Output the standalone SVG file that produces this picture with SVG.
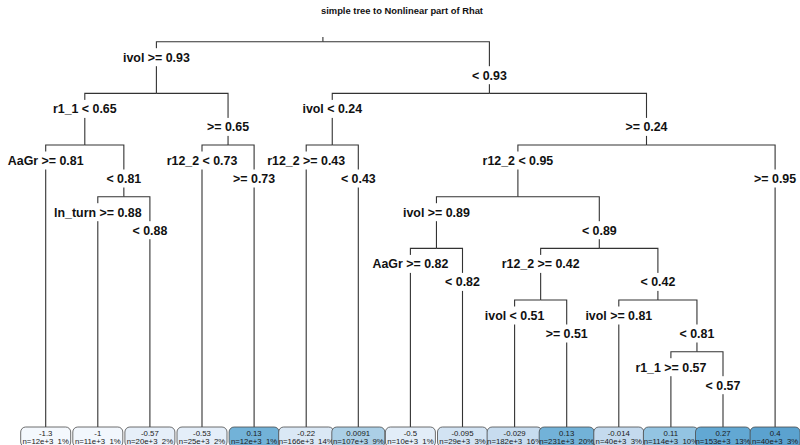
<svg xmlns="http://www.w3.org/2000/svg" width="800" height="445" viewBox="0 0 800 445">
<style>
.ln{stroke:#333;stroke-width:1.1;fill:none}
.bg{fill:#fff}
.lb{font-family:"Liberation Sans",Arial,sans-serif;font-weight:bold;font-size:12.4px;text-anchor:middle;fill:#111}
.tt{font-family:"Liberation Sans",Arial,sans-serif;font-weight:bold;font-size:9.4px;text-anchor:middle;fill:#111}
.bx{stroke:#4a4a4a;stroke-width:0.8}
.lv{font-family:"Liberation Sans",Arial,sans-serif;font-size:7.8px;text-anchor:middle;fill:#1a1a1a;white-space:pre}
</style>
<rect width="800" height="445" fill="#fff"/>
<text class="tt" x="402" y="13.5">simple tree to Nonlinear part of Rhat</text>
<g id="connectors">
<path class="ln" d="M322.9,37 V41.7"/>
<path class="ln" d="M322.9,41.7 H156.4 V93.4"/>
<path class="ln" d="M322.9,41.7 H489.4 V93.4"/>
<path class="ln" d="M156.4,93.4 H84.8 V145"/>
<path class="ln" d="M156.4,93.4 H228.05 V145"/>
<path class="ln" d="M489.4,93.4 H332.25 V145"/>
<path class="ln" d="M489.4,93.4 H646.5 V145"/>
<path class="ln" d="M84.8,145 H45.7 V427"/>
<path class="ln" d="M84.8,145 H123.85 V196.7"/>
<path class="ln" d="M228.05,145 H202 V427"/>
<path class="ln" d="M228.05,145 H254.1 V427"/>
<path class="ln" d="M332.25,145 H306.2 V427"/>
<path class="ln" d="M332.25,145 H358.3 V427"/>
<path class="ln" d="M646.5,145 H517.9 V196.7"/>
<path class="ln" d="M646.5,145 H775.1 V427"/>
<path class="ln" d="M123.85,196.7 H97.8 V427"/>
<path class="ln" d="M123.85,196.7 H149.9 V427"/>
<path class="ln" d="M517.9,196.7 H436.45 V248.4"/>
<path class="ln" d="M517.9,196.7 H599.3 V248.4"/>
<path class="ln" d="M436.45,248.4 H410.4 V427"/>
<path class="ln" d="M436.45,248.4 H462.5 V427"/>
<path class="ln" d="M599.3,248.4 H540.65 V300"/>
<path class="ln" d="M599.3,248.4 H657.9 V300"/>
<path class="ln" d="M540.65,300 H514.6 V427"/>
<path class="ln" d="M540.65,300 H566.7 V427"/>
<path class="ln" d="M657.9,300 H618.8 V427"/>
<path class="ln" d="M657.9,300 H696.95 V351.7"/>
<path class="ln" d="M696.95,351.7 H670.9 V427"/>
<path class="ln" d="M696.95,351.7 H723 V427"/>
</g>
<g id="n_root"></g>
<g id="n_L"><rect class="bg" x="120.95" y="48.2" width="70.9" height="18"/><text class="lb" x="156.4" y="61.6">ivol &gt;= 0.93</text></g>
<g id="n_R"><rect class="bg" x="470" y="66.2" width="38.8" height="18"/><text class="lb" x="489.4" y="79.6">&lt; 0.93</text></g>
<g id="n_LL"><rect class="bg" x="50.9" y="99.9" width="67.8" height="18"/><text class="lb" x="84.8" y="113.3">r1_1 &lt; 0.65</text></g>
<g id="n_LR"><rect class="bg" x="205" y="117.9" width="46.1" height="18"/><text class="lb" x="228.05" y="131.3">&gt;= 0.65</text></g>
<g id="n_RL"><rect class="bg" x="300.45" y="99.9" width="63.6" height="18"/><text class="lb" x="332.25" y="113.3">ivol &lt; 0.24</text></g>
<g id="n_RR"><rect class="bg" x="623.45" y="117.9" width="46.1" height="18"/><text class="lb" x="646.5" y="131.3">&gt;= 0.24</text></g>
<g id="n_LLR"><rect class="bg" x="104.45" y="169.5" width="38.8" height="18"/><text class="lb" x="123.85" y="182.9">&lt; 0.81</text></g>
<g id="n_RRL"><rect class="bg" x="480.55" y="151.5" width="74.7" height="18"/><text class="lb" x="517.9" y="164.9">r12_2 &lt; 0.95</text></g>
<g id="n_RRLL"><rect class="bg" x="401" y="203.2" width="70.9" height="18"/><text class="lb" x="436.45" y="216.6">ivol &gt;= 0.89</text></g>
<g id="n_RRLR"><rect class="bg" x="579.9" y="221.2" width="38.8" height="18"/><text class="lb" x="599.3" y="234.6">&lt; 0.89</text></g>
<g id="n_RRLRL"><rect class="bg" x="499.7" y="254.9" width="81.9" height="18"/><text class="lb" x="540.65" y="268.3">r12_2 &gt;= 0.42</text></g>
<g id="n_RRLRR"><rect class="bg" x="638.5" y="272.9" width="38.8" height="18"/><text class="lb" x="657.9" y="286.3">&lt; 0.42</text></g>
<g id="n_RRLRRR"><rect class="bg" x="677.55" y="324.5" width="38.8" height="18"/><text class="lb" x="696.95" y="337.9">&lt; 0.81</text></g>

<g id="leaf1"><rect class="bg" x="5.8" y="151.5" width="79.8" height="18"/><text class="lb" x="45.7" y="164.9">AaGr &gt;= 0.81</text>
<rect class="bx" x="20.7" y="427" width="50" height="20" rx="5" fill="#f4f8fd"/><text class="lv" x="45.7" y="435.5">-1.3</text><text class="lv" x="45.7" y="443.8">n=12e+3  1%</text></g>
<g id="leaf2"><rect class="bg" x="52.05" y="203.2" width="91.5" height="18"/><text class="lb" x="97.8" y="216.6">ln_turn &gt;= 0.88</text>
<rect class="bx" x="72.8" y="427" width="50" height="20" rx="5" fill="#f2f7fd"/><text class="lv" x="97.8" y="435.5">-1</text><text class="lv" x="97.8" y="443.8">n=11e+3  1%</text></g>
<g id="leaf3"><rect class="bg" x="130.5" y="221.2" width="38.8" height="18"/><text class="lb" x="149.9" y="234.6">&lt; 0.88</text>
<rect class="bx" x="124.9" y="427" width="50" height="20" rx="5" fill="#e6eff9"/><text class="lv" x="149.9" y="435.5">-0.57</text><text class="lv" x="149.9" y="443.8">n=20e+3  2%</text></g>
<g id="leaf4"><rect class="bg" x="164.65" y="151.5" width="74.7" height="18"/><text class="lb" x="202" y="164.9">r12_2 &lt; 0.73</text>
<rect class="bx" x="177" y="427" width="50" height="20" rx="5" fill="#e4eef9"/><text class="lv" x="202" y="435.5">-0.53</text><text class="lv" x="202" y="443.8">n=25e+3  2%</text></g>
<g id="leaf5"><rect class="bg" x="231.05" y="169.5" width="46.1" height="18"/><text class="lb" x="254.1" y="182.9">&gt;= 0.73</text>
<rect class="bx" x="229.1" y="427" width="50" height="20" rx="5" fill="#72b2d8"/><text class="lv" x="254.1" y="435.5">0.13</text><text class="lv" x="254.1" y="443.8">n=12e+3  1%</text></g>
<g id="leaf6"><rect class="bg" x="265.25" y="151.5" width="81.9" height="18"/><text class="lb" x="306.2" y="164.9">r12_2 &gt;= 0.43</text>
<rect class="bx" x="278.7" y="427" width="55" height="20" rx="5" fill="#dae8f5"/><text class="lv" x="306.2" y="435.5">-0.22</text><text class="lv" x="306.2" y="443.8">n=166e+3  14%</text></g>
<g id="leaf7"><rect class="bg" x="338.9" y="169.5" width="38.8" height="18"/><text class="lb" x="358.3" y="182.9">&lt; 0.43</text>
<rect class="bx" x="331.8" y="427" width="53" height="20" rx="5" fill="#abcfe6"/><text class="lv" x="358.3" y="435.5">0.0091</text><text class="lv" x="358.3" y="443.8">n=107e+3  9%</text></g>
<g id="leaf8"><rect class="bg" x="370.5" y="254.9" width="79.8" height="18"/><text class="lb" x="410.4" y="268.3">AaGr &gt;= 0.82</text>
<rect class="bx" x="385.4" y="427" width="50" height="20" rx="5" fill="#e2edf8"/><text class="lv" x="410.4" y="435.5">-0.5</text><text class="lv" x="410.4" y="443.8">n=10e+3  1%</text></g>
<g id="leaf9"><rect class="bg" x="443.1" y="272.9" width="38.8" height="18"/><text class="lb" x="462.5" y="286.3">&lt; 0.82</text>
<rect class="bx" x="437.5" y="427" width="50" height="20" rx="5" fill="#d2e3f3"/><text class="lv" x="462.5" y="435.5">-0.095</text><text class="lv" x="462.5" y="443.8">n=29e+3  3%</text></g>
<g id="leaf10"><rect class="bg" x="482.8" y="306.5" width="63.6" height="18"/><text class="lb" x="514.6" y="319.9">ivol &lt; 0.51</text>
<rect class="bx" x="487.1" y="427" width="55" height="20" rx="5" fill="#c7dcef"/><text class="lv" x="514.6" y="435.5">-0.029</text><text class="lv" x="514.6" y="443.8">n=182e+3  16%</text></g>
<g id="leaf11"><rect class="bg" x="543.65" y="324.5" width="46.1" height="18"/><text class="lb" x="566.7" y="337.9">&gt;= 0.51</text>
<rect class="bx" x="539.2" y="427" width="55" height="20" rx="5" fill="#72b2d8"/><text class="lv" x="566.7" y="435.5">0.13</text><text class="lv" x="566.7" y="443.8">n=231e+3  20%</text></g>
<g id="leaf12"><rect class="bg" x="583.35" y="306.5" width="70.9" height="18"/><text class="lb" x="618.8" y="319.9">ivol &gt;= 0.81</text>
<rect class="bx" x="593.8" y="427" width="50" height="20" rx="5" fill="#c4daee"/><text class="lv" x="618.8" y="435.5">-0.014</text><text class="lv" x="618.8" y="443.8">n=40e+3  3%</text></g>
<g id="leaf13"><rect class="bg" x="633.4" y="358.2" width="75" height="18"/><text class="lb" x="670.9" y="371.6">r1_1 &gt;= 0.57</text>
<rect class="bx" x="643.4" y="427" width="55" height="20" rx="5" fill="#93c4e2"/><text class="lv" x="670.9" y="435.5">0.11</text><text class="lv" x="670.9" y="443.8">n=114e+3  10%</text></g>
<g id="leaf14"><rect class="bg" x="703.6" y="376.2" width="38.8" height="18"/><text class="lb" x="723" y="389.6">&lt; 0.57</text>
<rect class="bx" x="695.5" y="427" width="55" height="20" rx="5" fill="#62a8d3"/><text class="lv" x="723" y="435.5">0.27</text><text class="lv" x="723" y="443.8">n=153e+3  13%</text></g>
<g id="leaf15"><rect class="bg" x="752.05" y="169.5" width="46.1" height="18"/><text class="lb" x="775.1" y="182.9">&gt;= 0.95</text>
<rect class="bx" x="750.1" y="427" width="50" height="20" rx="5" fill="#5ba2cf"/><text class="lv" x="775.1" y="435.5">0.4</text><text class="lv" x="775.1" y="443.8">n=40e+3  3%</text></g>
</svg>
